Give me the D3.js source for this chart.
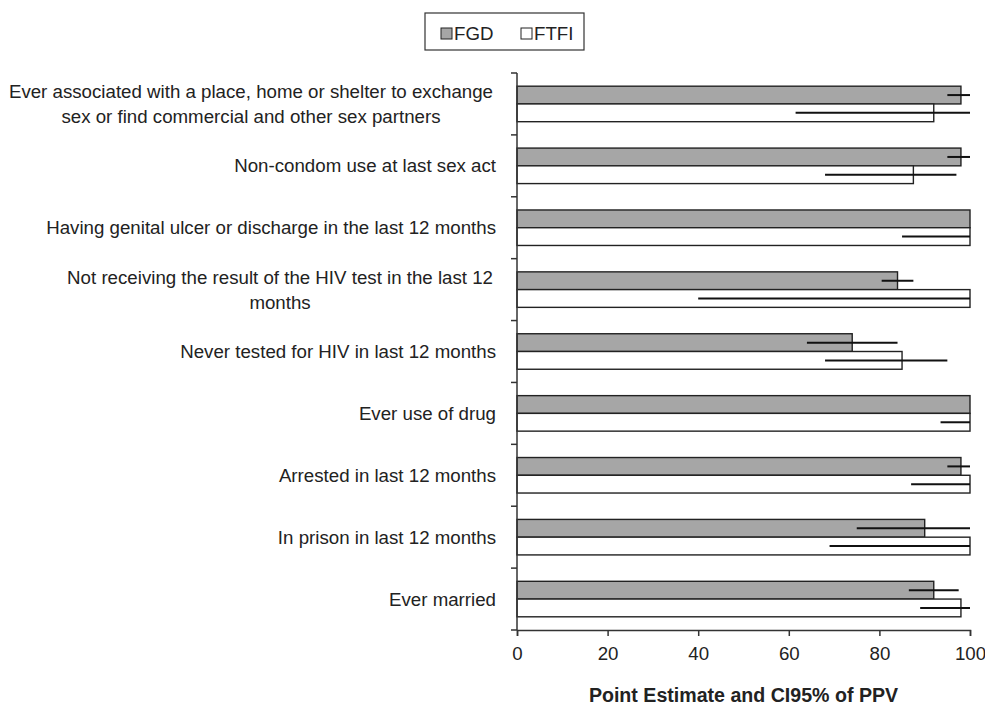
<!DOCTYPE html>
<html>
<head>
<meta charset="utf-8">
<script src="https://cdn.jsdelivr.net/npm/d3@7"></script>
<style>
  body { margin: 0; background: #fff; }
  svg { display: block; font-family: "Liberation Sans", Arial, Helvetica, sans-serif; }
</style>
</head>
<body>
<svg id="chart" width="985" height="705"></svg>
<script>
// Risk behaviours (line breaks mark where the label wraps)
const categories = [
  "Ever associated with a place, home or shelter to exchange\nsex or find commercial and other sex partners",
  "Non-condom use at last sex act",
  "Having genital ulcer or discharge in the last 12 months",
  "Not receiving the result of the HIV test in the last 12\nmonths",
  "Never tested for HIV in last 12 months",
  "Ever use of drug",
  "Arrested in last 12 months",
  "In prison in last 12 months",
  "Ever married"
];

const seriesNames = ["FGD", "FTFI"];

// Point estimates of PPV (%)
const fgdValues  = [98, 98, 100, 84, 74, 100, 98, 90, 92];
const ftfiValues = [92, 87.5, 100, 100, 85, 100, 100, 100, 98];

// 95% confidence intervals
const fgdLow   = [95, 95, 100, 80.5, 64, 100, 95, 75, 86.5];
const fgdHigh  = [100, 100, 100, 87.5, 84, 100, 100, 100, 97.5];
const ftfiLow  = [61.5, 68, 85, 40, 68, 93.5, 87, 69, 89];
const ftfiHigh = [100, 97, 100, 100, 95, 100, 100, 100, 100];

const xTicks = [0, 20, 40, 60, 80, 100];
const xTitle = "Point Estimate and CI95% of PPV";

const colors = { FGD: "#a6a6a6", FTFI: "#ffffff" };
const ink = "#222";
const labelSize = 18.7;

const svg = d3.select("#chart");
const plot = { left: 517, right: 970, top: 73, bottom: 630 };

const x = d3.scaleLinear().domain([0, 100]).range([plot.left, plot.right]);
const y = d3.scaleBand().domain(categories).range([plot.top, plot.bottom]).padding(0);
const inner = d3.scaleBand().domain(seriesNames).range([0, 35.5]);
const groupOffset = (y.bandwidth() - 35.5) / 2;

const rows = categories.map((c, i) => ({
  cat: c,
  series: [
    { name: "FGD", v: fgdValues[i], lo: fgdLow[i], hi: fgdHigh[i] },
    { name: "FTFI", v: ftfiValues[i], lo: ftfiLow[i], hi: ftfiHigh[i] }
  ]
}));

// Bars
const g = svg.append("g");
const groups = g.selectAll("g.row").data(rows).join("g")
  .attr("class", "row")
  .attr("transform", d => `translate(0,${y(d.cat) + groupOffset})`);

groups.selectAll("rect").data(d => d.series).join("rect")
  .attr("x", x(0))
  .attr("y", d => inner(d.name))
  .attr("width", d => x(d.v) - x(0))
  .attr("height", inner.bandwidth())
  .attr("fill", d => colors[d.name])
  .attr("stroke", ink)
  .attr("stroke-width", 1.4);

// Confidence interval whiskers
groups.selectAll("line.ci").data(d => d.series.filter(s => s.hi > s.lo)).join("line")
  .attr("class", "ci")
  .attr("x1", d => x(d.lo))
  .attr("x2", d => x(d.hi))
  .attr("y1", d => inner(d.name) + inner.bandwidth() / 2)
  .attr("y2", d => inner(d.name) + inner.bandwidth() / 2)
  .attr("stroke", "#111")
  .attr("stroke-width", 2);

// Y axis: line with ticks at band boundaries
const axisColor = "#333";
svg.append("line")
  .attr("x1", plot.left).attr("x2", plot.left)
  .attr("y1", plot.top).attr("y2", plot.bottom)
  .attr("stroke", axisColor).attr("stroke-width", 1.5);
const boundaries = categories.map(c => y(c)).concat([plot.bottom]);
svg.selectAll("line.ytick").data(boundaries).join("line")
  .attr("class", "ytick")
  .attr("x1", plot.left - 6).attr("x2", plot.left)
  .attr("y1", d => d).attr("y2", d => d)
  .attr("stroke", axisColor).attr("stroke-width", 1.5);

// Category labels
const labelRight = 496;
const labelGroups = svg.selectAll("g.label").data(categories).join("g")
  .attr("class", "label");
labelGroups.each(function(c) {
  const lines = c.split("\n");
  const gl = d3.select(this);
  const cy = y(c) + y.bandwidth() / 2;
  const lh = 25;
  const texts = lines.map((line, i) => gl.append("text")
    .attr("y", cy + (i - (lines.length - 1) / 2) * lh)
    .attr("dy", "0.35em")
    .attr("font-size", labelSize)
    .attr("fill", "#222")
    .text(line));
  if (lines.length === 1) {
    texts[0].attr("x", labelRight).attr("text-anchor", "end");
  } else {
    const maxW = d3.max(texts, t => t.node().getComputedTextLength());
    texts.forEach(t => t.attr("x", labelRight - 3 - maxW / 2).attr("text-anchor", "middle"));
  }
});

// X axis
const xAxis = d3.axisBottom(x).tickValues(xTicks).tickSize(6).tickPadding(11).tickFormat(d3.format("d"));
const xg = svg.append("g").attr("transform", `translate(0,${plot.bottom})`).call(xAxis);
xg.select(".domain").attr("stroke", axisColor).attr("stroke-width", 1.5);
xg.selectAll(".tick line").attr("stroke", axisColor).attr("stroke-width", 1.5);
xg.selectAll(".tick text").attr("font-size", labelSize).attr("fill", "#222")
  .attr("font-family", "Liberation Sans, Arial, sans-serif");

svg.append("text")
  .attr("x", (plot.left + plot.right) / 2)
  .attr("y", 702)
  .attr("text-anchor", "middle")
  .attr("font-size", 19.6)
  .attr("font-weight", "bold")
  .attr("fill", "#222")
  .text(xTitle);

// Legend
const legend = svg.append("g");
legend.append("rect")
  .attr("x", 425).attr("y", 13).attr("width", 159).attr("height", 37)
  .attr("fill", "#fff").attr("stroke", "#333").attr("stroke-width", 1.2);
const legendItems = legend.selectAll("g.item").data(seriesNames).join("g")
  .attr("class", "item")
  .attr("transform", (d, i) => `translate(${441 + i * 80},0)`);
legendItems.append("rect")
  .attr("x", 0).attr("y", 28).attr("width", 11).attr("height", 11)
  .attr("fill", d => colors[d]).attr("stroke", ink).attr("stroke-width", 1);
legendItems.append("text")
  .attr("x", 13).attr("y", 39.5)
  .attr("font-size", labelSize).attr("fill", "#222")
  .text(d => d);
</script>
</body>
</html>
